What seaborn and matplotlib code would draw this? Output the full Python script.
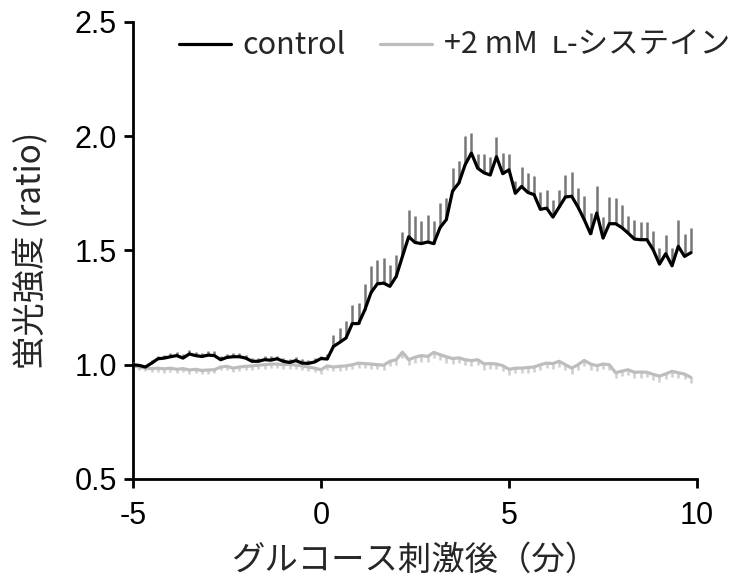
import numpy as np
import pandas as pd
import matplotlib
matplotlib.use("Agg")
import matplotlib.pyplot as plt
import seaborn as sns
from matplotlib.lines import Line2D

# time in minutes (10 s sampling)
time_min = [-5 + i / 6 for i in range(90)]

control_mean = [
    1.000, 0.997, 0.990, 1.007, 1.026, 1.029, 1.035, 1.040, 1.029, 1.047,
    1.040, 1.036, 1.042, 1.040, 1.022, 1.032, 1.035, 1.035, 1.029, 1.015,
    1.015, 1.022, 1.020, 1.026, 1.015, 1.010, 1.018, 1.007, 1.006, 1.012,
    1.027, 1.025, 1.080, 1.098, 1.117, 1.180, 1.180, 1.240, 1.316, 1.354,
    1.357, 1.343, 1.386, 1.474, 1.560, 1.535, 1.530, 1.537, 1.530, 1.600,
    1.635, 1.760, 1.795, 1.875, 1.926, 1.860, 1.840, 1.830, 1.910, 1.836,
    1.853, 1.750, 1.780, 1.754, 1.744, 1.680, 1.685, 1.646, 1.690, 1.734,
    1.737, 1.690, 1.635, 1.573, 1.664, 1.554, 1.617, 1.617, 1.600, 1.576,
    1.550, 1.547, 1.547, 1.503, 1.440, 1.486, 1.433, 1.518, 1.474, 1.490,
]
control_err = [
    0.010, 0.008, 0.010, 0.012, 0.014, 0.015, 0.016, 0.014, 0.018, 0.016,
    0.014, 0.015, 0.016, 0.018, 0.016, 0.015, 0.017, 0.016, 0.014, 0.013,
    0.016, 0.015, 0.016, 0.014, 0.013, 0.015, 0.014, 0.016, 0.015, 0.018,
    0.012, 0.020, 0.051, 0.063, 0.075, 0.083, 0.090, 0.114, 0.114, 0.105,
    0.110, 0.095, 0.095, 0.105, 0.117, 0.114, 0.098, 0.117, 0.100, 0.108,
    0.095, 0.100, 0.098, 0.124, 0.088, 0.061, 0.080, 0.077, 0.088, 0.090,
    0.069, 0.054, 0.083, 0.085, 0.080, 0.077, 0.080, 0.076, 0.073, 0.098,
    0.106, 0.083, 0.105, 0.093, 0.120, 0.092, 0.115, 0.112, 0.100, 0.076,
    0.085, 0.076, 0.079, 0.080, 0.071, 0.083, 0.077, 0.117, 0.098, 0.110,
]
cys_mean = [
    0.995, 0.990, 0.985, 0.983, 0.985, 0.982, 0.985, 0.980, 0.983, 0.977,
    0.980, 0.975, 0.977, 0.978, 0.990, 0.993, 0.985, 0.990, 0.993, 0.995,
    0.998, 1.000, 1.003, 1.003, 1.000, 1.002, 0.998, 0.995, 0.990, 0.985,
    0.978, 0.995, 0.990, 0.993, 0.995, 1.000, 1.007, 1.005, 1.003, 1.000,
    0.998, 1.015, 1.022, 1.055, 1.022, 1.033, 1.040, 1.036, 1.054, 1.044,
    1.035, 1.027, 1.030, 1.022, 1.018, 1.022, 1.004, 1.005, 1.003, 0.996,
    0.980, 0.985, 0.985, 0.988, 0.990, 1.000, 1.007, 1.005, 1.015, 1.000,
    0.985, 1.000, 1.019, 1.003, 0.996, 1.003, 1.000, 0.965, 0.972, 0.978,
    0.967, 0.968, 0.967, 0.958, 0.950, 0.960, 0.971, 0.965, 0.959, 0.945,
]
cys_err = [
    0.012, 0.015, 0.014, 0.016, 0.015, 0.018, 0.016, 0.017, 0.015, 0.018,
    0.016, 0.017, 0.018, 0.016, 0.015, 0.017, 0.016, 0.018, 0.017, 0.016,
    0.018, 0.017, 0.016, 0.018, 0.017, 0.019, 0.018, 0.017, 0.019, 0.018,
    0.020, 0.018, 0.019, 0.020, 0.018, 0.020, 0.021, 0.019, 0.022, 0.020,
    0.021, 0.022, 0.024, 0.026, 0.022, 0.024, 0.026, 0.022, 0.025, 0.024,
    0.026, 0.024, 0.023, 0.025, 0.024, 0.022, 0.025, 0.024, 0.023, 0.022,
    0.024, 0.022, 0.023, 0.025, 0.024, 0.022, 0.023, 0.024, 0.025, 0.023,
    0.024, 0.022, 0.023, 0.025, 0.024, 0.022, 0.023, 0.024, 0.022, 0.023,
    0.025, 0.024, 0.022, 0.023, 0.024, 0.022, 0.025, 0.024, 0.023, 0.025,
]

series_names = ["control", "+2 mM  \u029f-システイン"]
x_ticks = [-5, 0, 5, 10]
y_ticks = [0.5, 1.0, 1.5, 2.0, 2.5]
x_label = "グルコース刺激後（分）"
y_label = "蛍光強度 (ratio)"

sns.set_style("ticks")
plt.rcParams["font.family"] = ["Noto Sans CJK JP", "DejaVu Sans"]

df = pd.DataFrame({
    "time": time_min * 2,
    "value": control_mean + cys_mean,
    "group": [series_names[0]] * len(time_min) + [series_names[1]] * len(time_min),
})

fig = plt.figure(figsize=(7.34, 5.86), dpi=100)
ax = fig.add_axes([0.181, 0.1826, 0.7687, 0.78])

t = np.array(time_min)
cm, ce = np.array(control_mean), np.array(control_err)
ym, ye = np.array(cys_mean), np.array(cys_err)

# one-sided error bars
ax.vlines(t, ym - ye, ym, color="#cfcfcf", linewidth=1.8, zorder=1)
ax.vlines(t, cm, cm + ce, color="#777777", linewidth=1.8, zorder=3)

sns.lineplot(data=df, x="time", y="value", hue="group",
             palette={series_names[0]: "black", series_names[1]: "#bdbdbd"},
             hue_order=[series_names[1], series_names[0]],
             linewidth=2.3, ax=ax, legend=False)
for ln in ax.get_lines():
    c = matplotlib.colors.to_hex(ln.get_color())
    ln.set_zorder(5 if c == "#000000" else 2)

ax.set_xlim(-5, 10)
ax.set_ylim(0.5, 2.5)
ax.set_xticks(x_ticks)
ax.set_xticklabels([str(v) for v in x_ticks])
ax.set_yticks(y_ticks)
ax.set_yticklabels([f"{v:.1f}" for v in y_ticks])
ax.tick_params(axis="both", labelsize=22, width=2, length=6.5, color="black",
               labelcolor="black")
ax.tick_params(axis="x", pad=9)
ax.tick_params(axis="y", pad=5)
for lab in ax.get_xticklabels() + ax.get_yticklabels():
    lab.set_family(["Liberation Sans", "DejaVu Sans"])
for side in ["left", "bottom"]:
    ax.spines[side].set_linewidth(2)
    ax.spines[side].set_color("black")
sns.despine(ax=ax)
ax.set_xlabel(x_label, fontsize=24, labelpad=9)
ax.set_ylabel(y_label, fontsize=24, labelpad=19)

handles = [Line2D([], [], color="black", lw=2.3), Line2D([], [], color="#bdbdbd", lw=2.3)]
fig.legend(handles, series_names, loc="center", bbox_to_anchor=(0.619, 0.922),
           ncol=2, frameon=False, fontsize=22, handlelength=1.7,
           handletextpad=0.4, columnspacing=1.1)

fig.savefig("out.png", dpi=100)
